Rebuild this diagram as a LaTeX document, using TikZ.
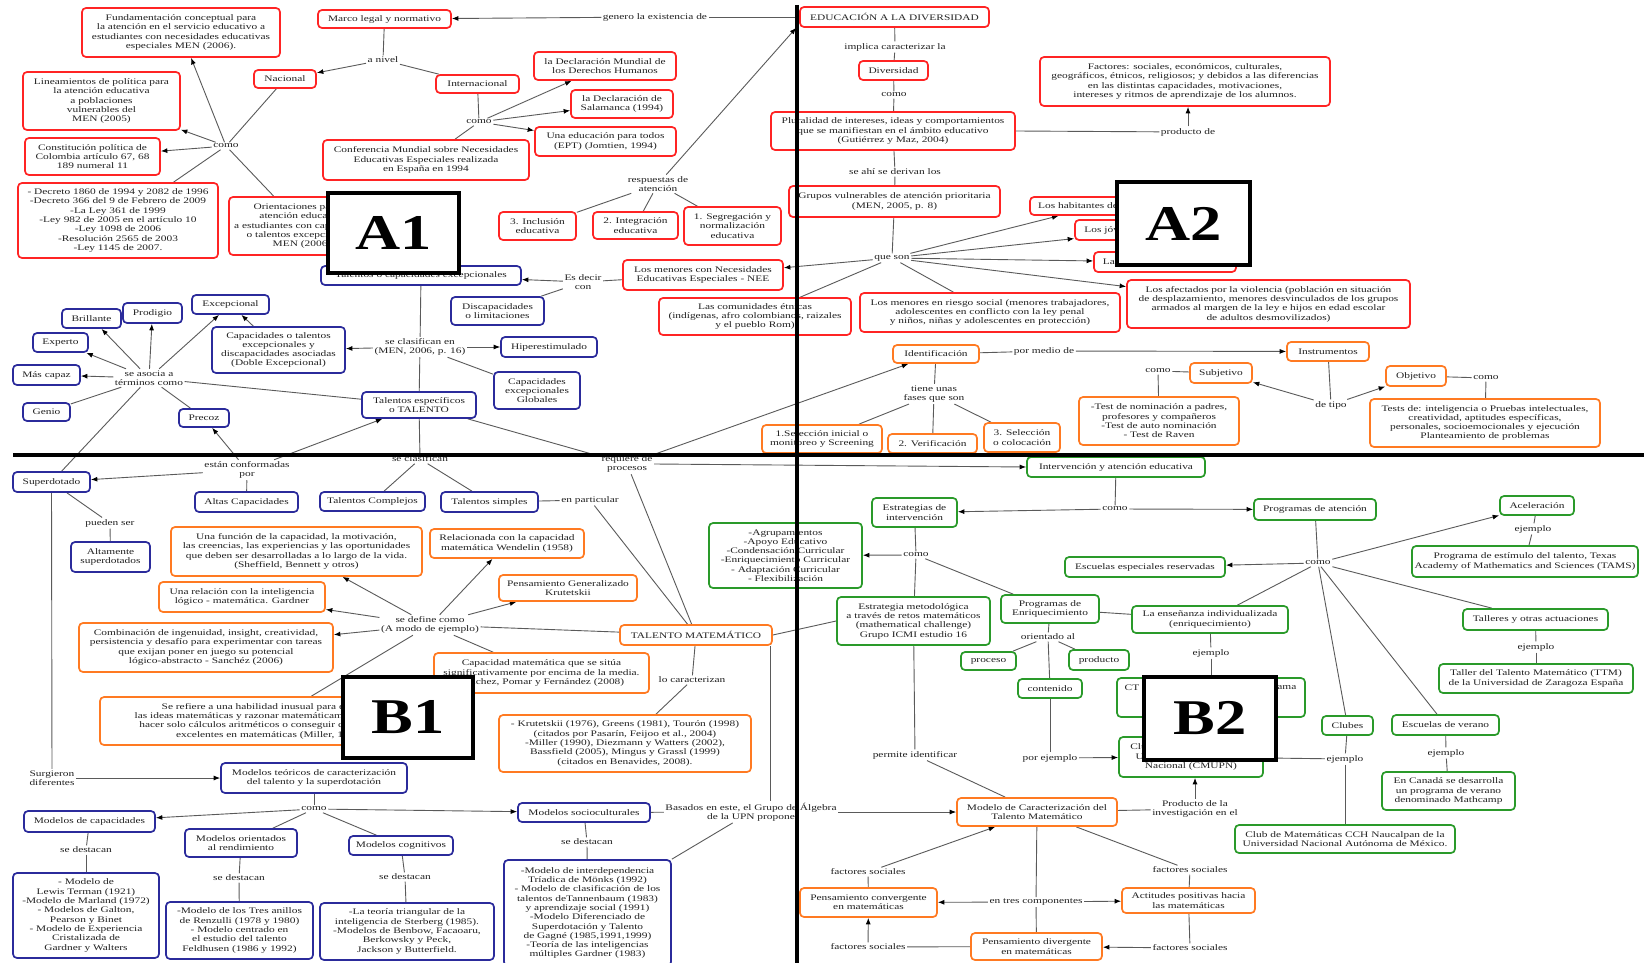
\documentclass[tikz,border=0pt]{standalone}
\usepackage{fontspec}
\setmainfont{Liberation Serif}[FakeStretch=1.34]
\newfontfamily\lblfont{Liberation Serif}[FakeStretch=1.25]
\usetikzlibrary{arrows.meta}
\definecolor{cred}{HTML}{FF2424}
\definecolor{cblue}{HTML}{2B2B9B}
\definecolor{corange}{HTML}{FF7A22}
\definecolor{cgreen}{HTML}{2A9A2A}
\definecolor{cline}{HTML}{5A5A5A}
\definecolor{ctext}{HTML}{222222}
\newcommand\mfs{\fontsize{8.5}{9.3}\selectfont}
\pgfdeclarelayer{back}\pgfdeclarelayer{bg}\pgfsetlayers{back,bg,main}
\newcommand\mkbox[7]{\node[#1, minimum width=#5pt, minimum height=#6pt] (#2) at (#3,#4) {#7};}
\newcommand\mklk[4]{\node[lkst] (#1) at (#2,#3) {#4};}
\begin{document}
\begin{tikzpicture}[x=1pt,y=-1pt,
 bxst/.style={draw, rounded corners=4pt, line width=1.7pt, fill=white, align=center, inner sep=2pt, font=\mfs, text=ctext},
 rb/.style={bxst,draw=cred},
 bb/.style={bxst,draw=cblue},
 ob/.style={bxst,draw=corange},
 gb/.style={bxst,draw=cgreen},
 lkst/.style={align=center, inner sep=1.5pt, font=\mfs, text=ctext},
 ln/.style={draw=cline, line width=0.9pt},
 ar/.style={ln, -{Latex[length=6.5pt,width=5pt,color=black]}},
 big/.style={draw=black, line width=3.5pt, fill=white, inner sep=0pt, font=\lblfont\bfseries\fontsize{50}{50}\selectfont},
 divl/.style={line width=4pt, draw=black}]
\useasboundingbox (0,0) rectangle (1644,963);
\begin{pgfonlayer}{back}
\fill[white] (0,0) rectangle (1644,963);
\end{pgfonlayer}

% ---------------- A1 red
\mkbox{rb}{fund}{181}{32.5}{198}{49}{Fundamentación conceptual para\\la atención en el servicio educativo a\\estudiantes con necesidades educativas\\especiales MEN (2006).}
\mkbox{rb}{marco}{384.5}{19}{133}{18}{Marco legal y normativo}
\mkbox{rb}{nac}{285}{79}{62}{18}{Nacional}
\mkbox{rb}{lin}{101.5}{101}{157}{58}{Lineamientos de política para\\la atención educativa\\a poblaciones\\vulnerables del\\MEN (2005)}
\mkbox{rb}{const}{92.5}{156.5}{135}{37}{Constitución política de\\Colombia artículo 67, 68\\189 numeral 11}
\mkbox{rb}{decr}{118}{220.5}{200}{75}{- Decreto 1860 de 1994 y 2082 de 1996\\-Decreto 366 del 9 de Febrero de 2009\\-La Ley 361 de 1999\\-Ley 982 de 2005 en el artículo 10\\-Ley 1098 de 2006\\-Resolución 2565 de 2003\\-Ley 1145 de 2007.}
\mkbox{rb}{orient}{302}{226}{146}{58}{Orientaciones para la\\atención educativa\\a estudiantes con capacidades\\o talentos excepcionales\\MEN (2006)}
\mkbox{rb}{conf}{426}{160}{206}{40}{Conferencia Mundial sobre Necesidades\\Educativas Especiales realizada\\en España en 1994}
\mkbox{rb}{inter}{477.5}{84}{83}{18}{Internacional}
\mkbox{rb}{dmund}{605}{66}{142}{28}{la Declaración Mundial de\\los Derechos Humanos}
\mkbox{rb}{salam}{622}{104}{102}{28}{la Declaración de\\Salamanca (1994)}
\mkbox{rb}{ept}{605.5}{141.5}{141}{29}{Una educación para todos\\(EPT) (Jomtien, 1994)}
\mkbox{rb}{incl}{537.5}{226}{77}{28}{3. Inclusión\\educativa}
\mkbox{rb}{integ}{635.5}{225.5}{85}{27}{2. Integración\\educativa}
\mkbox{rb}{segr}{732.5}{226}{97}{38}{1. Segregación y\\normalización\\educativa}
\mkbox{rb}{nee}{703}{275}{160}{30}{Los menores con Necesidades\\Educativas Especiales - NEE}
\mkbox{rb}{etn}{755}{316.5}{192}{37}{Las comunidades étnicas\\(indígenas, afro colombianos, raizales\\y el pueblo Rom)}

% ---------------- A2 red
\mkbox{rb}{edu}{894.5}{17}{189}{20}{EDUCACIÓN A LA DIVERSIDAD}
\mkbox{rb}{div}{893.5}{70.5}{69}{19}{Diversidad}
\mkbox{rb}{plur}{893}{131}{244}{38}{Pluralidad de intereses, ideas y comportamientos\\que se manifiestan en el ámbito educativo\\(Gutiérrez y Maz, 2004)}
\mkbox{rb}{fact}{1185}{81.5}{290}{49}{Factores: sociales, económicos, culturales,\\geográficos, étnicos, religiosos; y debidos a las diferencias\\en las distintas capacidades, motivaciones,\\intereses y ritmos de aprendizaje de los alumnos.}
\mkbox{rb}{grup}{894.5}{201.5}{211}{31}{Grupos vulnerables de atención prioritaria\\(MEN, 2005, p. 8)}
\mkbox{rb}{hab}{1097.5}{206}{135}{18}{Los habitantes de frontera}
\mkbox{rb}{jov}{1155}{230}{160}{20}{Los jóvenes y adultos iletrados}
\mkbox{rb}{rur}{1165}{262}{142}{20}{La población rural dispersa}
\mkbox{rb}{afect}{1268.5}{304}{283}{48}{Los afectados por la violencia (población en situación\\de desplazamiento, menores desvinculados de los grupos\\armados al margen de la ley e hijos en edad escolar\\de adultos desmovilizados)}
\mkbox{rb}{riesgo}{990}{312.5}{260}{39}{Los menores en riesgo social (menores trabajadores,\\adolescentes en conflicto con la ley penal\\y niños, niñas y adolescentes en protección)}

% ---------------- A2 orange
\mkbox{ob}{ident}{936}{354}{86}{18}{Identificación}
\mkbox{ob}{instr}{1328}{351.5}{82}{19}{Instrumentos}
\mkbox{ob}{subj}{1221}{373}{62}{20}{Subjetivo}
\mkbox{ob}{testA}{1159}{421}{160}{48}{-Test de nominación a padres,\\profesores y compañeros\\-Test de auto nominación\\- Test de Raven}
\mkbox{ob}{obj}{1416}{376}{60}{20}{Objetivo}
\mkbox{ob}{testB}{1485}{423}{230}{48}{Tests de: inteligencia o Pruebas intelectuales,\\creatividad, aptitudes específicas,\\personales, socioemocionales y ejecución\\Planteamiento de problemas}
\mkbox{ob}{sel1}{822}{439}{120}{28}{1.Selección inicial o\\monitoreo y Screening}
\mkbox{ob}{verif}{932.5}{443.5}{89}{19}{2. Verificación}
\mkbox{ob}{sel3}{1022}{437.5}{76}{29}{3. Selección\\o colocación}

% ---------------- A1 blue
\mkbox{bb}{talexc}{421}{275.5}{200}{19}{Talentos o capacidades excepcionales}
\mkbox{bb}{disc}{497.5}{311}{93}{28}{Discapacidades\\o limitaciones}
\mkbox{bb}{hiper}{549}{347}{96}{20}{Hiperestimulado}
\mkbox{bb}{glob}{537}{390.5}{86}{37}{Capacidades\\excepcionales\\Globales}
\mkbox{bb}{tesp}{419}{405}{114}{26}{Talentos específicos\\o TALENTO}
\mkbox{bb}{doble}{278.5}{350}{133}{46}{Capacidades o talentos\\excepcionales y\\discapacidades asociadas\\(Doble Excepcional)}
\mkbox{bb}{excep}{230.5}{304.5}{77}{19}{Excepcional}
\mkbox{bb}{prod}{152.5}{313}{59}{20}{Prodigio}
\mkbox{bb}{brill}{91.5}{318.5}{59}{19}{Brillante}
\mkbox{bb}{exper}{60.5}{342.5}{55}{19}{Experto}
\mkbox{bb}{mas}{46.5}{375}{67}{20}{Más capaz}
\mkbox{bb}{genio}{46.5}{412}{47}{18}{Genio}
\mkbox{bb}{precoz}{204}{418}{50}{18}{Precoz}

% ---------------- B1 blue
\mkbox{bb}{superd}{51.5}{482}{77}{20}{Superdotado}
\mkbox{bb}{altas}{246.5}{502}{103}{20}{Altas Capacidades}
\mkbox{bb}{compl}{372.5}{501.5}{105}{19}{Talentos Complejos}
\mkbox{bb}{simp}{489.5}{502}{97}{20}{Talentos simples}
\mkbox{bb}{altam}{110.5}{557}{79}{30}{Altamente\\superdotados}
\mkbox{bb}{mteo}{314}{778}{186}{30}{Modelos teóricos de caracterización\\del talento y la superdotación}
\mkbox{bb}{mcap}{89.5}{821.5}{131}{21}{Modelos de capacidades}
\mkbox{bb}{mori}{241}{843}{112}{28}{Modelos orientados\\al rendimiento}
\mkbox{bb}{mcog}{401}{845.5}{104}{19}{Modelos cognitivos}
\mkbox{bb}{msoc}{584}{812.5}{132}{19}{Modelos socioculturales}
\mkbox{bb}{lcap}{86}{915.5}{146}{85}{- Modelo de\\Lewis Terman (1921)\\-Modelo de Marland (1972)\\- Modelos de Galton,\\Pearson y Binet\\- Modelo de Experiencia\\Cristalizada de\\Gardner y Walters}
\mkbox{bb}{lori}{239.5}{930.5}{147}{57}{-Modelo de los Tres anillos\\de Renzulli (1978 y 1980)\\- Modelo centrado en\\el estudio del talento\\Feldhusen (1986 y 1992)}
\mkbox{bb}{lcog}{407}{931.5}{174}{57}{-La teoría triangular de la\\inteligencia de Sterberg (1985).\\-Modelos de Benbow, Facaoaru,\\Berkowsky y Peck,\\Jackson y Butterfield.}
\mkbox{bb}{lsoc}{587.5}{913}{167}{106}{-Modelo de interdependencia\\Tríadica de Mönks (1992)\\- Modelo de clasificación de los\\talentos deTannenbaum (1983)\\y aprendizaje social (1991)\\-Modelo Diferenciado de\\Superdotación y Talento\\de Gagné (1985,1991,1999)\\-Teoría de las inteligencias\\múltiples Gardner (1983)}

% ---------------- B1 orange
\mkbox{ob}{func}{296.5}{551.5}{251}{49}{Una función de la capacidad, la motivación,\\las creencias, las experiencias y las oportunidades\\que deben ser desarrolladas a lo largo de la vida.\\(Sheffield, Bennett y otros)}
\mkbox{ob}{rel}{507}{543.5}{154}{29}{Relacionada con la capacidad\\matemática Wendelin (1958)}
\mkbox{ob}{pgen}{568}{588}{138}{26}{Pensamiento Generalizado\\Krutetskii}
\mkbox{ob}{logm}{242}{597}{166}{30}{Una relación con la inteligencia\\lógico - matemática. Gardner}
\mkbox{ob}{comb}{206}{647.5}{254}{49}{Combinación de ingenuidad, insight, creatividad,\\persistencia y desafío para experimentar con tareas\\que exijan poner en juego su potencial\\lógico-abstracto - Sanchéz (2006)}
\mkbox{ob}{capm}{541.5}{673}{215}{40}{Capacidad matemática que se sitúa\\significativamente por encima de la media.\\Sánchez, Pomar y Fernández (2008)}
\mkbox{ob}{refi}{270}{721}{340}{48}{Se refiere a una habilidad inusual para entender\\las ideas matemáticas y razonar matemáticamente, más que\\hacer solo cálculos aritméticos o conseguir calificaciones\\excelentes en matemáticas (Miller, 1990)}
\mkbox{ob}{krut}{625}{743.5}{252}{57}{- Krutetskii (1976), Greens (1981), Tourón (1998)\\(citados por Pasarín, Feijoo et al., 2004)\\-Miller (1990), Diezmann y Watters (2002),\\Bassfield (2005), Mingus y Grassl (1999)\\(citados en Benavides, 2008).}
\mkbox{ob}{talm}{696}{635}{152}{20}{TALENTO MATEMÁTICO}

% ---------------- B2 green
\mkbox{gb}{interv}{1116}{467}{178}{20}{Intervención y atención educativa}
\mkbox{gb}{estr}{914.5}{512.5}{85}{29}{Estrategias de\\intervención}
\mkbox{gb}{prat}{1315}{509.5}{122}{21}{Programas de atención}
\mkbox{gb}{list}{785.5}{555.5}{153}{65}{-Agrupamientos\\-Apoyo Educativo\\-Condensación Curricular\\-Enriquecimiento Curricular\\- Adaptación Curricular\\- Flexibilización}
\mkbox{gb}{emet}{913.5}{621}{153}{48}{Estrategia metodológica\\a través de retos matemáticos\\(mathematical challenge)\\Grupo ICMI estudio 16}
\mkbox{gb}{penr}{1050}{609}{98}{28}{Programas de\\Enriquecimiento}
\mkbox{gb}{ensi}{1210}{619.5}{156}{27}{La enseñanza individualizada\\(enriquecimiento)}
\mkbox{gb}{proc}{988.5}{661}{55}{18}{proceso}
\mkbox{gb}{produ}{1099}{660}{60}{20}{producto}
\mkbox{gb}{cont}{1050}{688.5}{64}{19}{contenido}
\mkbox{gb}{ctb}{1211}{697.5}{188}{39}{}
\node[lkst, anchor=west] (ctbA) at (1123,688) {CT};
\node[lkst, anchor=east] (ctbB) at (1298,688) {ama};
\mkbox{gb}{clubu}{1191}{757}{144}{40}{Club de Matemáticas de la\\Universidad Pedagógica\\Nacional (CMUPN)}
\mkbox{gb}{esres}{1145}{567}{160}{20}{Escuelas especiales reservadas}
\mkbox{gb}{acel}{1537}{505.5}{74}{19}{Aceleración}
\mkbox{gb}{tams}{1525}{561.5}{226}{31}{Programa de estímulo del talento, Texas\\Academy of Mathematics and Sciences (TAMS)}
\mkbox{gb}{tall}{1535.5}{619.5}{145}{21}{Talleres y otras actuaciones}
\mkbox{gb}{ttm}{1536}{678.5}{194}{29}{Taller del Talento Matemático (TTM)\\de la Universidad de Zaragoza España}
\mkbox{gb}{clubes}{1347.5}{725.5}{51}{19}{Clubes}
\mkbox{gb}{everano}{1445.5}{725}{107}{20}{Escuelas de verano}
\mkbox{gb}{canada}{1448.5}{791}{133}{38}{En Canadá se desarrolla\\un programa de verano\\denominado Mathcamp}
\mkbox{gb}{cch}{1345}{839}{220}{28}{Club de Matemáticas CCH Naucalpan de la\\Universidad Nacional Autónoma de México.}

% ---------------- B2 orange
\mkbox{ob}{mcar}{1037}{812}{160}{28}{Modelo de Caracterización del\\Talento Matemático}
\mkbox{ob}{pconv}{868.5}{902.5}{137}{29}{Pensamiento convergente\\en matemáticas}
\mkbox{ob}{actit}{1188.5}{900.5}{133}{25}{Actitudes positivas hacia\\las matemáticas}
\mkbox{ob}{pdiv}{1036.5}{946.5}{131}{27}{Pensamiento divergente\\en matemáticas}

% ---------------- linking phrases
\mklk{Lgen}{655}{17}{genero la existencia de}
\mklk{Lniv}{383}{60}{a nivel}
\mklk{Lca}{226}{146}{como}
\mklk{Lcb}{479}{122}{como}
\mklk{Lresp}{658}{184}{respuestas de\\atención}
\mklk{Lesd}{583}{282}{Es decir\\con}
\mklk{Lscl}{420}{347}{se clasifican en\\(MEN, 2006, p. 16)}
\mklk{Lasoc}{149}{378}{se asocia a\\términos como}
\mklk{Lconf}{247}{470}{están conformadas\\por}
\mklk{Lsclb}{420}{459}{se clasifican}
\mklk{Lreq}{627}{464}{requiere de\\procesos}
\mklk{Lpart}{590}{500}{en particular}
\mklk{Lpued}{110}{523}{pueden ser}
\mklk{Ldef}{430}{625}{se define como\\(A modo de ejemplo)}
\mklk{Lcar}{692}{680}{lo caracterizan}
\mklk{Lsurg}{52}{778}{Surgieron\\diferentes}
\mklk{Lcc}{314}{809}{como}
\mklk{Lda}{86}{850}{se destacan}
\mklk{Ldb}{239}{878}{se destacan}
\mklk{Ldc}{405}{877}{se destacan}
\mklk{Ldd}{587}{842}{se destacan}
\mklk{Lbas}{751}{812}{Basados en este, el Grupo de Álgebra\\de la UPN propone}
\mklk{Limp}{895}{47}{implica caracterizar la}
\mklk{Lcd}{894}{95}{como}
\mklk{Lprod}{1188}{132}{producto de}
\mklk{Lder}{895}{172}{se ahí se derivan los}
\mklk{Lque}{892}{258}{que son}
\mklk{Lmed}{1044}{351}{por medio de}
\mklk{Ltipo}{1331}{405}{de tipo}
\mklk{Lce}{1158}{371}{como}
\mklk{Lcf}{1486}{378}{como}
\mklk{Lfas}{934}{394}{tiene unas\\fases que son}
\mklk{Lcg}{1115}{509}{como}
\mklk{Lch}{916}{555}{como}
\mklk{Lci}{1318}{563}{como}
\mklk{Lori}{1048}{637}{orientado al}
\mklk{Leja}{1211}{653}{ejemplo}
\mklk{Lperm}{915}{755}{permite identificar}
\mklk{Lpej}{1050}{758}{por ejemplo}
\mklk{Lpdl}{1195}{809}{Producto de la\\investigación en el}
\mklk{Lfsa}{868}{872}{factores sociales}
\mklk{Lfsb}{1190}{870}{factores sociales}
\mklk{Lfsc}{868}{947}{factores sociales}
\mklk{Lfsd}{1190}{948}{factores sociales}
\mklk{Ltres}{1036}{902}{en tres componentes}
\mklk{Lejb}{1533}{529}{ejemplo}
\mklk{Lejc}{1536}{647}{ejemplo}
\mklk{Lejd}{1446}{753}{ejemplo}
\mklk{Leje}{1345}{759}{ejemplo}

% ---------------- connectors
\begin{pgfonlayer}{bg}
% A1
\draw[ln] (edu) -- (Lgen);
\draw[ar] (Lgen) -- (marco);
\draw[ln] (marco) -- (Lniv);
\draw[ar] (Lniv) -- (nac);
\draw[ln] (Lniv) -- (inter);
\draw[ln] (nac) -- (Lca);
\draw[ar] (Lca) -- (fund);
\draw[ar] (Lca) -- (lin);
\draw[ar] (Lca) -- (const);
\draw[ln] (Lca) -- (decr);
\draw[ln] (Lca) -- (orient);
\draw[ln] (inter) -- (Lcb);
\draw[ar] (Lcb) -- (dmund);
\draw[ar] (Lcb) -- (salam);
\draw[ar] (Lcb) -- (ept);
\draw[ln] (Lcb) -- (conf);
\draw[ar] (Lresp) -- ([xshift=-3pt]edu.south west);
\draw[ln] (Lresp) -- (incl);
\draw[ln] (Lresp) -- (integ);
\draw[ln] (Lresp) -- (segr);
\draw[ln] (nee) -- (Lesd);
\draw[ar] (Lesd) -- (talexc);
\draw[ln] (Lesd) -- (disc);
\draw[ar] (Lque) -- (nee);
\draw[ln] (Lque) -- (etn);
\draw[ln] (talexc) -- (Lscl);
\draw[ar] (Lscl) -- (hiper);
\draw[ln] (Lscl) -- (glob);
\draw[ar] (Lscl) -- (doble);
\draw[ln] (Lscl) -- (tesp);
\draw[ln] (tesp) -- (Lsclb);
\draw[ln] (Lsclb) -- (compl);
\draw[ln] (Lsclb) -- (simp);
\draw[ln] (simp) -- (Lpart);
\draw[ln] (Lpart) -- (talm);
\draw[ar] (Lasoc) -- (brill);
\draw[ar] (Lasoc) -- (prod);
\draw[ar] (Lasoc) -- (excep);
\draw[ar] (Lasoc) -- (exper);
\draw[ar] (Lasoc) -- (mas);
\draw[ln] (Lasoc) -- (genio);
\draw[ln] (Lasoc) -- (precoz);
\draw[ln] (Lasoc) -- (tesp);
\draw[ln] (Lasoc) -- (superd);
\draw[ar] (doble) -- (excep);
\draw[ar] (Lconf) -- (precoz);
\draw[ar] (Lconf) -- (tesp);
\draw[ar] (Lconf) -- (superd);
\draw[ln] (Lconf) -- (altas);
\draw[ln] (tesp) -- (Lreq);
\draw[ar] (Lreq) -- (ident);
\draw[ar] (Lreq.east) -- (interv.west);
\draw[ln] (Lreq) -- (talm);
% B1
\draw[ln] (superd) -- (Lpued);
\draw[ln] (Lpued) -- (altam);
\draw[ln] (superd) -- (Lsurg);
\draw[ar] (Lsurg) -- (mteo);
\draw[ln] (mteo) -- (Lcc);
\draw[ar] (Lcc) -- (mcap);
\draw[ln] (Lcc) -- (mori);
\draw[ln] (Lcc) -- (mcog);
\draw[ar] (Lcc) -- (msoc);
\draw[ln] (mcap) -- (Lda);
\draw[ln] (Lda) -- (lcap);
\draw[ln] (mori) -- (Ldb);
\draw[ln] (Ldb) -- (lori);
\draw[ln] (mcog) -- (Ldc);
\draw[ln] (Ldc) -- (lcog);
\draw[ln] (msoc) -- (Ldd);
\draw[ln] (Ldd) -- (lsoc);
\draw[ln] (msoc) -- (Lbas);
\draw[ln] (Lbas) -- (lsoc.north east);
\draw[ln] ([xshift=-2pt]talm.south east) -- ([xshift=-2pt]talm.south east |- Lbas.north);
\draw[ar] (Lbas) -- (mcar);
\draw[ln] (talm) -- (Ldef);
\draw[ar] (Ldef) -- (func);
\draw[ar] (Ldef) -- (rel);
\draw[ar] (Ldef) -- (pgen);
\draw[ar] (Ldef) -- (logm);
\draw[ar] (Ldef) -- (comb);
\draw[ln] (Ldef) -- (refi);
\draw[ln] (Ldef) -- (capm);
\draw[ln] (talm) -- (Lcar);
\draw[ln] (Lcar) -- (krut);
\draw[ln] (talm.east) -- (emet.west);
% A2
\draw[ln] (edu) -- (Limp);
\draw[ln] (Limp) -- (div);
\draw[ln] (div) -- (Lcd);
\draw[ln] (Lcd) -- (plur);
\draw[ln] (plur) -- (Lder);
\draw[ln] (Lder) -- (grup);
\draw[ln] (plur.east) -- (Lprod);
\draw[ar] (Lprod) -- (fact.south -| Lprod);
\draw[ln] (grup) -- (Lque);
\draw[ar] (Lque) -- (hab);
\draw[ar] (Lque) -- (jov);
\draw[ar] (Lque) -- (rur);
\draw[ar] (Lque) -- (afect);
\draw[ln] (Lque) -- (riesgo);
\draw[ln] (ident) -- (Lmed);
\draw[ar] (Lmed) -- (instr);
\draw[ln] (instr) -- (Ltipo);
\draw[ar] (Ltipo) -- (subj);
\draw[ar] (Ltipo) -- (obj);
\draw[ln] (subj) -- (Lce);
\draw[ln] (Lce) -- (testA);
\draw[ln] (obj) -- (Lcf);
\draw[ln] (Lcf) -- (testB);
\draw[ln] (ident) -- (Lfas);
\draw[ln] (Lfas) -- (sel1);
\draw[ln] (Lfas) -- (verif);
\draw[ln] (Lfas) -- (sel3);
% B2
\draw[ln] (interv) -- (Lcg);
\draw[ar] (Lcg) -- (estr);
\draw[ar] (Lcg) -- (prat);
\draw[ln] (estr) -- (Lch);
\draw[ar] (Lch) -- (list);
\draw[ln] (Lch) -- (emet);
\draw[ln] (Lch) -- (penr);
\draw[ln] (penr) -- (ensi);
\draw[ln] (penr) -- (Lori);
\draw[ln] (Lori) -- (proc);
\draw[ln] (Lori) -- (produ);
\draw[ln] (Lori) -- (cont);
\draw[ln] (ensi) -- (Leja);
\draw[ln] (Leja) -- (ctb);
\draw[ln] (cont) -- (Lpej);
\draw[ar] (Lpej) -- (clubu);
\draw[ln] (emet) -- (Lperm);
\draw[ln] (Lperm) -- (mcar);
\draw[ln] (mcar) -- (Lpdl);
\draw[ar] (Lpdl) -- (clubu.south -| Lpdl);
\draw[ar] (Lfsa) -- (mcar);
\draw[ln] (Lfsa) -- (pconv);
\draw[ln] (mcar) -- (Lfsb);
\draw[ln] (Lfsb) -- (actit);
\draw[ln] (actit) -- (Lfsd);
\draw[ar] (Lfsd) -- (pdiv);
\draw[ar] (Lfsc) -- (pconv);
\draw[ln] (Lfsc) -- (pdiv);
\draw[ln] (mcar) -- (Ltres);
\draw[ar] (Ltres) -- (pconv);
\draw[ar] (Ltres) -- (actit);
\draw[ln] (Ltres) -- (pdiv);
\draw[ln] (prat) -- (Lci);
\draw[ar] (Lci) -- (esres);
\draw[ar] (Lci) -- (acel);
\draw[ln] (Lci) -- (ensi);
\draw[ln] (Lci) -- (clubes);
\draw[ln] (Lci) -- (everano);
\draw[ln] (Lci) -- (tall);
\draw[ln] (acel) -- (Lejb);
\draw[ln] (Lejb) -- (tams);
\draw[ln] (tall) -- (Lejc);
\draw[ln] (Lejc) -- (ttm);
\draw[ln] (everano) -- (Lejd);
\draw[ln] (Lejd) -- (canada);
\draw[ln] (clubes) -- (Leje);
\draw[ln] (Leje) -- (cch);
\draw[ln] (Leje) -- (clubu);
\end{pgfonlayer}

% ---------------- dividers
\coordinate (vtop) at (797,5);
\coordinate (vbot) at (797,963);
\coordinate (hl) at (13,455);
\coordinate (hr) at (1644,455);
\draw[divl] (vtop) -- (vbot);
\draw[divl] (hl) -- (hr);

% ---------------- quadrant labels
\node[big, minimum width=131pt, minimum height=80pt] (labA1) at (393.5,233) {A1};
\node[big, minimum width=133pt, minimum height=83pt] (labA2) at (1183.5,223.5) {A2};
\node[big, minimum width=130pt, minimum height=81pt] (labB1) at (408,717.5) {B1};
\node[big, minimum width=132pt, minimum height=83pt] (labB2) at (1210,718.5) {B2};
\end{tikzpicture}
\end{document}
